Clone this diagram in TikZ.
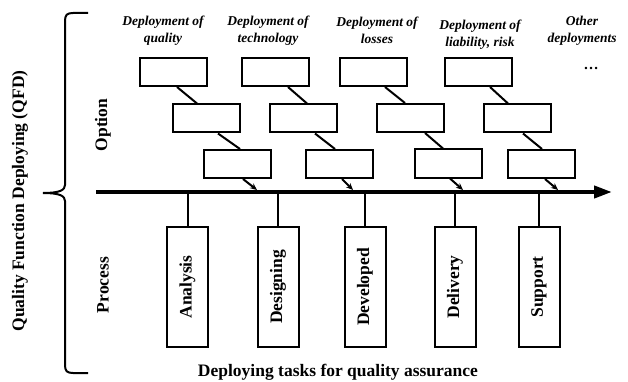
\documentclass[tikz,border=0pt]{standalone}
\usepackage{fontspec}
\setmainfont{Liberation Serif}
\usetikzlibrary{arrows.meta}

\begin{document}
\begin{tikzpicture}[x=1pt, y=-1pt,
    optbox/.style={draw, line width=2pt, minimum width=67pt, minimum height=28pt, inner sep=0pt},
    procbox/.style={draw, line width=2pt, minimum width=41pt, minimum height=120pt, inner sep=0pt,
      font=\fontsize{17.5}{19}\selectfont\bfseries},
    deplabel/.style={align=center, inner sep=0pt, font=\fontsize{13.5}{17}\selectfont\bfseries\itshape},
    sidelabel/.style={rotate=90, inner sep=0pt, font=\fontsize{17.5}{19}\selectfont\bfseries},
    link/.style={line width=2pt},
    linkarrow/.style={line width=2pt, -{Stealth[length=7pt,width=6pt]}}]
  \useasboundingbox (0,0) rectangle (628,382);

  % Draw the brace on the left
  \draw[line width=2pt] (88,13) -- (73,13) .. controls (67,13) and (65,15) .. (65,21)
    -- (65,185) .. controls (65,190) and (60,193) .. (43,193)
    .. controls (60,193) and (65,196) .. (65,201)
    -- (65,365) .. controls (65,371) and (67,373) .. (73,373) -- (88,373);
  \node[sidelabel] (qfd) at (20,201) {Quality Function Deploying (QFD)};

  % Draw the main axis
  \coordinate (axstart) at (96,192);
  \coordinate (axend) at (612,192);
  \draw[line width=4pt, -{Triangle[length=18pt,width=12pt]}] (axstart) -- (axend);

  % Side labels
  \node[sidelabel] (option) at (103,125) {Option};
  \node[sidelabel] (process) at (103,285) {Process};

  % Labels at the top
  \node[deplabel] (dq) at (163,30.5) {Deployment of\\quality};
  \node[deplabel] (dt) at (268,30.5) {Deployment of\\technology};
  \node[deplabel] (dl) at (377,30.5) {Deployment of\\losses};
  \node[deplabel] (dr) at (480,34.5) {Deployment of\\liability, risk};
  \node[deplabel] (do) at (582,30.5) {Other\\deployments};
  \node[font=\fontsize{15}{17}\selectfont\bfseries] (more) at (591,68) {\dots};

  % Option boxes
  \node[optbox] (q1) at (173.5,72) {};
  \node[optbox] (q2) at (206.5,118.5) {};
  \node[optbox] (q3) at (237.5,164) {};
  \node[optbox] (t1) at (275,72) {};
  \node[optbox] (t2) at (303,118.5) {};
  \node[optbox] (t3) at (339,164) {};
  \node[optbox] (l1) at (373,72) {};
  \node[optbox] (l2) at (410.5,118) {};
  \node[optbox] (l3) at (448,163.5) {};
  \node[optbox] (r1) at (478.5,72) {};
  \node[optbox] (r2) at (517.5,118.5) {};
  \node[optbox] (r3) at (541,164) {};

  % Points where the options meet the axis
  \coordinate (qa) at (257,190);
  \coordinate (ta) at (353,190);
  \coordinate (la) at (463,190);
  \coordinate (ra) at (558,190);

  % Draw the links between the option boxes
  \draw[link] ([xshift=3.5pt]q1.south) -- ([xshift=-9.5pt]q2.north);
  \draw[link] ([xshift=11.5pt]q2.south) -- ([xshift=2.5pt]q3.north);
  \draw[linkarrow] ([xshift=5.5pt]q3.south) -- (qa);
  \draw[link] ([xshift=13pt]t1.south) -- ([xshift=4pt]t2.north);
  \draw[link] ([xshift=12pt]t2.south) -- ([xshift=-4pt]t3.north);
  \draw[linkarrow] ([xshift=3pt]t3.south) -- (ta);
  \draw[link] ([xshift=12pt]l1.south) -- ([xshift=-5.5pt]l2.north);
  \draw[link] ([xshift=14.5pt]l2.south) -- ([xshift=-5pt]l3.north);
  \draw[linkarrow] ([xshift=2pt]l3.south) -- (la);
  \draw[link] ([xshift=11.5pt]r1.south) -- ([xshift=-9.5pt]r2.north);
  \draw[link] ([xshift=5.5pt]r2.south) -- ([xshift=1pt]r3.north);
  \draw[linkarrow] ([xshift=4pt]r3.south) -- (ra);

  % Process boxes hanging from the axis
  \node[procbox] (pa) at (187.5,287) {\rotatebox{90}{Analysis}};
  \node[procbox] (pd) at (278,287) {\rotatebox{90}{Designing}};
  \node[procbox] (pv) at (365,287) {\rotatebox{90}{Developed}};
  \node[procbox] (pl) at (455,287) {\rotatebox{90}{Delivery}};
  \node[procbox] (ps) at (539,287) {\rotatebox{90}{Support}};
  \draw[link] (pa.north) -- (pa.north |- axstart);
  \draw[link] (pd.north) -- (pd.north |- axstart);
  \draw[link] (pv.north) -- (pv.north |- axstart);
  \draw[link] (pl.north) -- (pl.north |- axstart);
  \draw[link] (ps.north) -- (ps.north |- axstart);

  % Label at the bottom
  \node[font=\fontsize{17.5}{19}\selectfont\bfseries, inner sep=0pt] (tasks) at (338,372)
    {Deploying tasks for quality assurance};
\end{tikzpicture}
\end{document}
